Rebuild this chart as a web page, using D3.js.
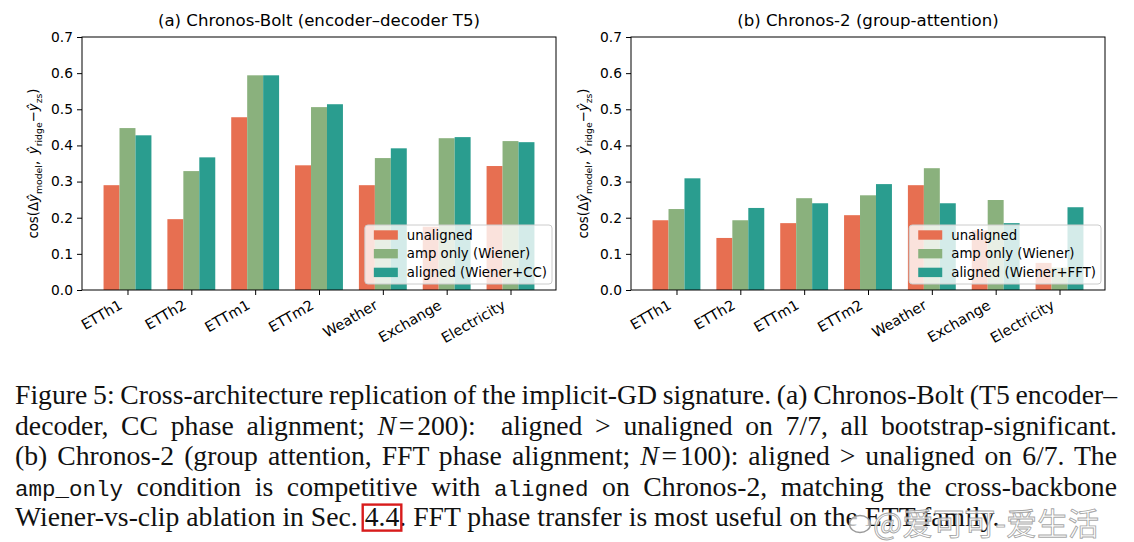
<!DOCTYPE html>
<html>
<head>
<meta charset="utf-8">
<script src="https://cdn.jsdelivr.net/npm/d3@7"></script>
<style>
  html, body { margin: 0; padding: 0; background: #fff; }
  #wrap { position: relative; width: 1134px; height: 542px; overflow: hidden; }
  #wrap svg { position: absolute; left: 0; top: 0; }
  .cap { position: absolute; left: 15px; font-family: "Liberation Serif", "Times New Roman", serif;
         font-size: 27.7px; line-height: 30.4px; white-space: pre; color: #111; }
  .cap .tt { font-family: "Liberation Mono", monospace; font-size: 22.5px; }
  .cap .rel { margin: 0 0.1em; }
  .axis text { font-family: "DejaVu Sans", sans-serif; font-size: 13.8px; fill: #000; }
  .axis line { stroke: #000; }
</style>
</head>
<body>
<div id="wrap">
  <svg id="fig" width="1134" height="542"></svg>
  <div id="caption"></div>
  <svg id="mark" width="1134" height="542"></svg>
</div>
<script>
// values (Exchange / Electricity bars partly under the legends are estimates)
const datasets = ["ETTh1", "ETTh2", "ETTm1", "ETTm2", "Weather", "Exchange", "Electricity"];
const boltUnaligned = [0.290, 0.196, 0.478, 0.345, 0.290, 0.175, 0.343];
const boltAmpOnly   = [0.448, 0.329, 0.594, 0.506, 0.365, 0.420, 0.412];
const boltAligned   = [0.428, 0.367, 0.594, 0.514, 0.392, 0.423, 0.409];
const c2Unaligned   = [0.193, 0.144, 0.185, 0.207, 0.290, 0.165, 0.075];
const c2AmpOnly     = [0.224, 0.193, 0.254, 0.262, 0.337, 0.249, 0.062];
const c2Aligned     = [0.309, 0.227, 0.240, 0.293, 0.240, 0.185, 0.229];
const yTicks = [0, 0.1, 0.2, 0.3, 0.4, 0.5, 0.6, 0.7];
const boltLabels = ["unaligned", "amp only (Wiener)", "aligned (Wiener+CC)"];
const c2Labels   = ["unaligned", "amp only (Wiener)", "aligned (Wiener+FFT)"];

const COLORS = ["#e76f51", "#8ab17d", "#2a9d8f"];
const FONT = "DejaVu Sans, sans-serif";
const TOP = 37, BOTTOM = 290, BAR_W = 0.25;

const svg = d3.select("#fig");
svg.append("rect").attr("width", 1134).attr("height", 542).attr("fill", "#fff");

const panels = [
  { title: "(a) Chronos-Bolt (encoder\u2013decoder T5)", left: 82, right: 556, ylabX: 38,
    series: [boltUnaligned, boltAmpOnly, boltAligned], labels: boltLabels },
  { title: "(b) Chronos-2 (group-attention)", left: 631, right: 1105, ylabX: 588,
    series: [c2Unaligned, c2AmpOnly, c2Aligned], labels: c2Labels },
];

function drawPanel(p) {
  const g = svg.append("g");
  const x = d3.scaleLinear().domain([-0.7125, datasets.length - 1 + 0.7125]).range([p.left, p.right]);
  const y = d3.scaleLinear().domain([0, 0.7]).range([BOTTOM, TOP]);
  const bw = x(BAR_W) - x(0);

  // bars
  p.series.forEach((vals, s) => {
    g.selectAll(null).data(vals).join("rect")
      .attr("x", (d, i) => x(i + (s - 1) * BAR_W - BAR_W / 2))
      .attr("y", d => y(d))
      .attr("width", bw)
      .attr("height", d => y(0) - y(d))
      .attr("fill", COLORS[s]);
  });

  // axes
  const ya = g.append("g").attr("class", "axis").attr("transform", `translate(${p.left},0)`)
    .call(d3.axisLeft(y).tickValues(yTicks).tickFormat(d3.format(".1f")).tickSize(5).tickPadding(4));
  ya.select(".domain").remove();
  const xa = g.append("g").attr("class", "axis").attr("transform", `translate(0,${BOTTOM})`)
    .call(d3.axisBottom(x).tickValues(d3.range(datasets.length)).tickFormat("").tickSize(5));
  xa.select(".domain").remove();

  g.selectAll(null).data(datasets).join("text")
    .attr("transform", (d, i) => `translate(${x(i) - 4},${BOTTOM + 18}) rotate(-30)`)
    .attr("text-anchor", "end").attr("font-family", FONT).attr("font-size", 14.3)
    .text(d => d);

  // frame
  g.append("rect").attr("x", p.left).attr("y", TOP)
    .attr("width", p.right - p.left).attr("height", BOTTOM - TOP)
    .attr("fill", "none").attr("stroke", "#000").attr("stroke-width", 1);

  // title
  g.append("text").attr("x", (p.left + p.right) / 2).attr("y", TOP - 11)
    .attr("text-anchor", "middle").attr("font-family", FONT).attr("font-size", 16.6)
    .text(p.title);

  // y label: cos(Δŷ_model, ŷ_ridge − ŷ_zs)
  const yl = g.append("text")
    .attr("transform", `translate(${p.ylabX},${(TOP + BOTTOM) / 2}) rotate(-90)`)
    .attr("text-anchor", "middle").attr("font-family", FONT).attr("font-size", 13.3);
  const sub = (t) => yl.append("tspan").attr("font-size", 9.3).attr("dy", 3.5).text(t);
  const back = () => yl.append("tspan").attr("dy", -3.5);
  const yhat = (el) => el.append("tspan").attr("font-style", "italic").text("\u0177");
  yl.append("tspan").text("cos(\u0394");
  yhat(yl);
  sub("model");
  back().text(",\u2002");
  yhat(yl);
  sub("ridge");
  back().text("\u2212");
  yhat(yl);
  sub("zs");
  back().text(")");

  // legend (lower right, translucent white frame)
  const leg = g.append("g");
  const rowH = 18.7, legH = 59;
  const legTop = BOTTOM - 6 - legH;
  const box = leg.append("rect");
  const texts = p.labels.map((lab, i) => leg.append("text")
    .attr("y", legTop + 10 + i * rowH).attr("dy", "0.35em")
    .attr("font-family", FONT).attr("font-size", 13.3).text(lab));
  const tw = d3.max(texts, t => t.node().getComputedTextLength());
  const legW = 42 + tw + 5;
  const legLeft = p.right - 4 - legW;
  box.attr("x", legLeft).attr("y", legTop).attr("width", legW).attr("height", legH)
    .attr("rx", 3).attr("fill", "#fff").attr("fill-opacity", 0.8)
    .attr("stroke", "#cccccc").attr("stroke-width", 1);
  texts.forEach(t => t.attr("x", legLeft + 42));
  p.labels.forEach((lab, i) => {
    leg.append("rect").attr("x", legLeft + 9).attr("y", legTop + 10 + i * rowH - 4.7)
      .attr("width", 24).attr("height", 9.4).attr("fill", COLORS[i]);
  });
}
panels.forEach(drawPanel);

// caption
const captionLines = [
  'Figure 5: Cross-architecture replication of the implicit-GD signature. (a) Chronos-Bolt (T5 encoder\u2013',
  'decoder, CC phase alignment; <i>N</i><span class="rel">=</span>200):  aligned &gt; unaligned on 7/7, all bootstrap-significant.',
  '(b) Chronos-2 (group attention, FFT phase alignment; <i>N</i><span class="rel">=</span>100): aligned &gt; unaligned on 6/7. The',
  '<span class="tt">amp_only</span> condition is competitive with <span class="tt">aligned</span> on Chronos-2, matching the cross-backbone',
  'Wiener-vs-clip ablation in Sec. <span id="ref">4.4</span>. FFT phase transfer is most useful on the ETT family.',
];
const BASE0 = 405, LEAD = 30.4, ASC = 24.55, TEXT_W = 1102;
const cap = d3.select("#caption");
captionLines.forEach((html, i) => {
  const div = cap.append("div").attr("class", "cap")
    .style("top", (BASE0 + i * LEAD - ASC) + "px").html(html);
  if (i < captionLines.length - 1) {
    const w = div.node().getBoundingClientRect().width;
    const n = (div.text().match(/ /g) || []).length;
    div.style("word-spacing", ((TEXT_W - w) / n) + "px");
  }
});
// red link box round the section reference
const wr = document.getElementById("wrap").getBoundingClientRect();
const rr = document.getElementById("ref").getBoundingClientRect();
const base5 = BASE0 + 4 * LEAD;
const mark = d3.select("#mark");
mark.append("rect")
  .attr("x", rr.left - wr.left - 2).attr("y", base5 - 22)
  .attr("width", rr.width + 4).attr("height", 26)
  .attr("fill", "none").attr("stroke", "#d81c1c").attr("stroke-width", 2.4);

// watermark
mark.append("ellipse").attr("cx", 860).attr("cy", 524).attr("rx", 10.5).attr("ry", 8.5)
  .attr("fill", "#fff").attr("fill-opacity", 0.7).attr("stroke", "#9a9a9a").attr("stroke-width", 1.5);
mark.append("text").attr("x", 873).attr("y", 535)
  .attr("font-family", "Noto Sans CJK SC, sans-serif").attr("font-size", 31)
  .attr("fill", "#fff").attr("fill-opacity", 0.8)
  .attr("stroke", "#8f8f8f").attr("stroke-width", 0.9).attr("stroke-opacity", 0.8)
  .text("@\u7231\u53ef\u53ef-\u7231\u751f\u6d3b");
</script>
</body>
</html>
